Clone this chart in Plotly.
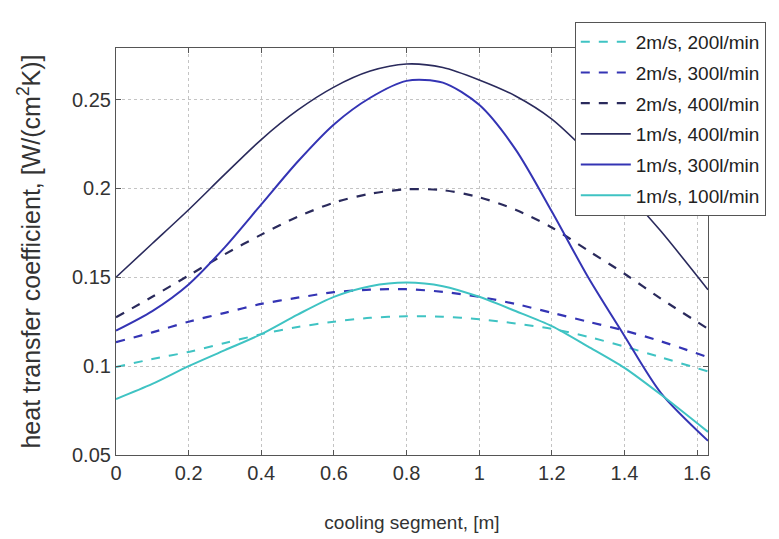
import plotly.graph_objects as go

# cooling segment positions [m]
x_pos = [0.0, 0.1, 0.2, 0.3, 0.4, 0.5, 0.6, 0.7, 0.8, 0.9, 1.0, 1.1, 1.2, 1.3, 1.4, 1.5, 1.63]

# heat transfer coefficient [W/(cm^2 K)]
v2_200 = [0.0995, 0.104, 0.108, 0.113, 0.118, 0.122, 0.125, 0.1272, 0.128, 0.1278, 0.1264, 0.124, 0.121, 0.1165, 0.111, 0.105, 0.097]
v2_300 = [0.1135, 0.119, 0.125, 0.130, 0.135, 0.1385, 0.1416, 0.143, 0.1433, 0.1418, 0.139, 0.135, 0.130, 0.125, 0.120, 0.114, 0.105]
v2_400 = [0.1275, 0.139, 0.151, 0.163, 0.174, 0.184, 0.192, 0.197, 0.1995, 0.199, 0.195, 0.188, 0.178, 0.165, 0.152, 0.138, 0.121]
v1_400 = [0.150, 0.169, 0.188, 0.208, 0.2275, 0.244, 0.257, 0.266, 0.270, 0.268, 0.261, 0.252, 0.239, 0.220, 0.199, 0.176, 0.143]
v1_300 = [0.120, 0.131, 0.146, 0.167, 0.191, 0.215, 0.236, 0.251, 0.2605, 0.2595, 0.247, 0.222, 0.187, 0.150, 0.117, 0.085, 0.058]
v1_100 = [0.0815, 0.090, 0.100, 0.109, 0.118, 0.129, 0.139, 0.145, 0.147, 0.145, 0.139, 0.131, 0.1225, 0.111, 0.099, 0.084, 0.063]

series_names = ["2m/s, 200l/min", "2m/s, 300l/min", "2m/s, 400l/min",
                "1m/s, 400l/min", "1m/s, 300l/min", "1m/s, 100l/min"]
series_vals = [v2_200, v2_300, v2_400, v1_400, v1_300, v1_100]

x_ticks = [0, 0.2, 0.4, 0.6, 0.8, 1, 1.2, 1.4, 1.6]
x_ticklabels = ["0", "0.2", "0.4", "0.6", "0.8", "1", "1.2", "1.4", "1.6"]
y_ticks = [0.05, 0.1, 0.15, 0.2, 0.25]
y_ticklabels = ["0.05", "0.1", "0.15", "0.2", "0.25"]

CYAN = "#3fc3c3"
BLUE = "#3434b4"
DARK = "#2a2a5c"
styles = [
    dict(color=CYAN, dash="dash", width=2),
    dict(color=BLUE, dash="dash", width=2.2),
    dict(color=DARK, dash="dash", width=2.2),
    dict(color=DARK, dash="solid", width=1.6),
    dict(color=BLUE, dash="solid", width=2),
    dict(color=CYAN, dash="solid", width=2),
]

FONT = "Liberation Sans, Arial, sans-serif"
fig = go.Figure()
for i, (name, vals, st) in enumerate(zip(series_names, series_vals, styles)):
    fig.add_trace(go.Scatter(x=x_pos, y=vals, mode="lines", name=name,
                             legendgroup=f"g{i}",
                             line=dict(shape="spline", smoothing=0.8, **st)))

axis_common = dict(showline=True, linecolor="#555555", linewidth=1.2, mirror="ticks",
                   ticks="inside", ticklen=5, tickcolor="#555555",
                   showgrid=True, gridcolor="#c4c4c4", griddash="dot", gridwidth=1,
                   zeroline=False, tickfont=dict(family=FONT, size=20, color="#333333"))

fig.update_layout(
    width=779, height=539,
    paper_bgcolor="white", plot_bgcolor="white",
    margin=dict(l=108, r=79, t=40, b=92, autoexpand=False),
    font=dict(family=FONT, color="#333333"),
    xaxis=dict(range=[0, 1.63], tickvals=x_ticks, ticktext=x_ticklabels,
               title=dict(text="cooling segment, [m]", font=dict(size=19, family=FONT, color="#333333"), standoff=32),
               **axis_common),
    yaxis=dict(range=[0.05, 0.279], tickvals=y_ticks, ticktext=y_ticklabels,
               title=dict(text="heat transfer coefficient, [W/(cm<sup>2</sup>K)]",
                          font=dict(size=25, family=FONT, color="#333333"), standoff=24),
               **axis_common),
    legend=dict(x=0.775, y=1.064, xanchor="left", yanchor="top",
                bgcolor="white", bordercolor="#555555", borderwidth=1,
                font=dict(family=FONT, size=19, color="#222222"),
                tracegroupgap=3, itemwidth=50),
    showlegend=True,
)

fig.write_html("out.html")
